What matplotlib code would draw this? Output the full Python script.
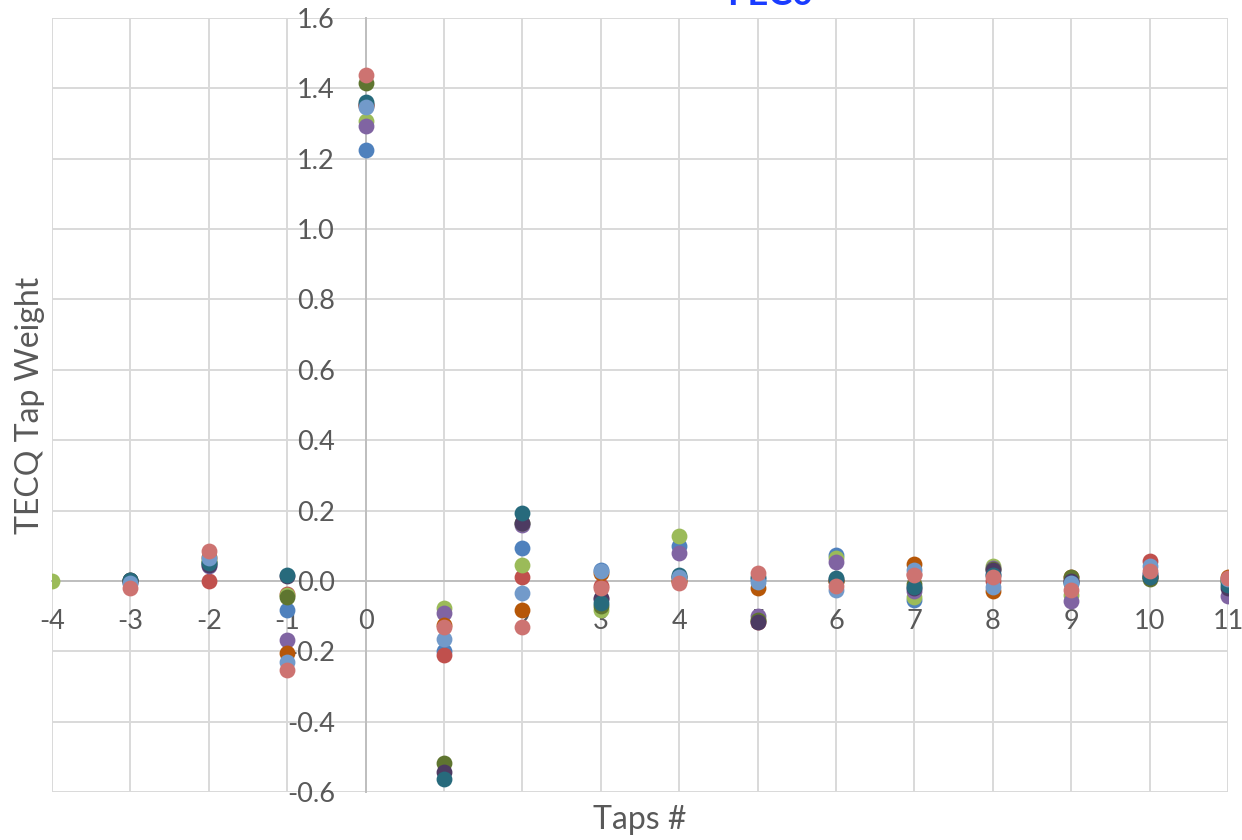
import numpy as np
import matplotlib
matplotlib.use("Agg")
import matplotlib.pyplot as plt

plt.rcParams["axes.unicode_minus"] = False
plt.rcParams["font.family"] = ["Lato", "DejaVu Sans"]

# Tap positions
taps = [-4, -3, -2, -1, 0, 1, 2, 3, 4, 5, 6, 7, 8, 9, 10, 11]
nan = np.nan

# TECQ tap weights, one list per series
blue_w = [nan, -0.006, 0.050, -0.084, 1.225, -0.200, 0.094, 0.030, 0.098, 0.005, 0.074, -0.054, 0.020, 0.000, 0.020, 0.000]
red_w = [nan, 0.000, 0.001, -0.037, 1.350, -0.210, 0.010, -0.015, 0.000, -0.118, 0.000, 0.020, 0.000, 0.000, 0.057, 0.005]
green_w = [0.000, 0.000, 0.060, -0.040, 1.306, -0.078, 0.045, -0.082, 0.128, -0.112, 0.066, -0.045, 0.041, -0.040, 0.015, 0.000]
purple_w = [nan, 0.000, 0.041, -0.167, 1.293, -0.092, 0.160, -0.050, 0.079, -0.100, 0.055, -0.030, 0.038, -0.057, 0.020, -0.042]
orange_w = [nan, 0.000, 0.069, -0.205, 1.353, -0.125, -0.084, 0.022, 0.000, -0.021, 0.000, 0.047, -0.030, 0.010, 0.012, 0.012]
olive_w = [nan, 0.003, 0.055, -0.045, 1.415, -0.518, 0.165, -0.070, 0.010, -0.110, 0.000, -0.010, 0.035, 0.012, 0.005, 0.000]
plum_w = [nan, 0.002, 0.045, 0.015, 1.355, -0.542, 0.165, -0.049, 0.012, -0.118, 0.005, -0.020, 0.032, 0.000, 0.010, -0.020]
teal_w = [nan, 0.003, 0.050, 0.017, 1.362, -0.563, 0.193, -0.063, 0.017, 0.010, 0.008, -0.016, 0.017, -0.005, 0.012, -0.011]
sky_w = [nan, -0.006, 0.064, -0.230, 1.348, -0.165, -0.035, 0.028, 0.010, -0.002, -0.026, 0.031, -0.016, -0.007, 0.041, 0.005]
salmon_w = [nan, -0.021, 0.085, -0.253, 1.438, -0.130, -0.130, -0.021, -0.005, 0.022, -0.014, 0.017, 0.012, -0.026, 0.028, 0.009]

series = [blue_w, red_w, green_w, purple_w, orange_w, olive_w, plum_w, teal_w, sky_w, salmon_w]
colors = ["#4F81BD", "#C0504D", "#9BBB59", "#8064A2", "#B65708",
          "#5F7530", "#4D3B62", "#276A7C", "#729ACA", "#CD7371"]

y_ticks = [-0.6, -0.4, -0.2, 0.0, 0.2, 0.4, 0.6, 0.8, 1.0, 1.2, 1.4, 1.6]

fig = plt.figure(figsize=(12.42, 8.4), dpi=100)
ax = fig.add_axes([52 / 1242, 1 - 792 / 840, (1228 - 52) / 1242, (792 - 18) / 840])

ax.set_xlim(-4, 11)
ax.set_ylim(-0.6, 1.6)

# light grid drawn underneath everything
grid_c = "#D9D9D9"
for t in taps:
    ax.axvline(t, color=grid_c, lw=1.4, zorder=0)
for v in y_ticks:
    ax.axhline(v, color=grid_c, lw=1.4, zorder=0)

for vals, c in zip(series, colors):
    ax.plot(taps, vals, linestyle="none", marker="o", markersize=11.4,
            markerfacecolor=c, markeredgecolor=c, markeredgewidth=0, zorder=2)

# axes crossing at the origin
for side in ("top", "right"):
    ax.spines[side].set_visible(False)
ax.spines["left"].set_position(("data", 0))
ax.spines["bottom"].set_position(("data", 0))
for side in ("left", "bottom"):
    ax.spines[side].set_color("#BFBFBF")
    ax.spines[side].set_linewidth(1.4)
    ax.spines[side].set_zorder(1)

ax.set_xticks(taps)
ax.set_xticklabels([str(t) for t in taps])
ax.set_yticks(y_ticks)
ax.set_yticklabels([f"{v:.1f}" for v in y_ticks])
ax.tick_params(axis="both", length=0, labelsize=19.5, labelcolor="#595959")
ax.tick_params(axis="y", pad=22)
ax.tick_params(axis="x", pad=20)

fig.text(30 / 1242, 1 - 405 / 840, "TECQ Tap Weight", rotation=90,
         ha="center", va="center", fontsize=23, color="#595959")
fig.text(640 / 1242, 1 - 820 / 840, "Taps #",
         ha="center", va="center", fontsize=23, color="#595959")

# chart title sitting at the top edge
fig.text(770 / 1242, 1 - 5 / 840, "FEC0", ha="center", va="baseline",
         fontsize=26, fontweight="bold", color="#1A3CFF")

fig.savefig("out.png", dpi=100)
